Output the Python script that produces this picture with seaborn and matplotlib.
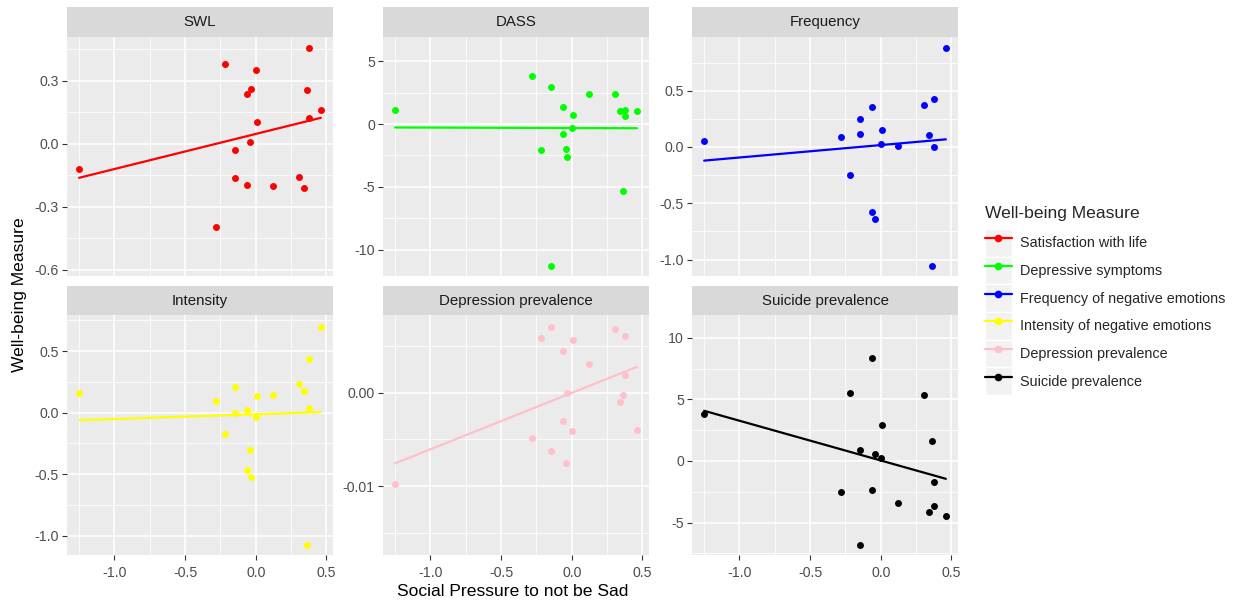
import numpy as np
import pandas as pd
import matplotlib
matplotlib.use("Agg")
import matplotlib.pyplot as plt
from matplotlib.lines import Line2D
from matplotlib.patches import Patch
from matplotlib.ticker import FixedLocator, FormatStrFormatter
import seaborn as sns

# --- data ---
# Social pressure to not be sad, one value per country
pressure = [-1.25, -0.283, -0.22, -0.147, -0.147, -0.062, -0.062, -0.044, -0.031,
            0.0, 0.008, 0.12, 0.306, 0.34, 0.366, 0.376, 0.377, 0.461]

swl = [-0.121, -0.398, 0.381, -0.029, -0.162, 0.237, -0.195, 0.006, 0.259,
       0.352, 0.105, -0.202, -0.156, -0.213, 0.254, 0.457, 0.122, 0.162]
dass = [1.14, 3.82, -2.04, 2.97, -11.3, 1.33, -0.80, -1.96, -2.63,
        -0.32, 0.74, 2.39, 2.39, 1.03, -5.33, 1.14, 0.64, 1.03]
frequency = [0.050, 0.086, -0.249, 0.246, 0.115, 0.352, -0.580, -0.636, np.nan,
             0.030, 0.151, 0.012, 0.373, 0.107, -1.053, 0.426, -0.003, 0.879]
intensity = [0.157, 0.098, -0.176, 0.206, 0.0, 0.022, -0.463, -0.306, -0.520,
             -0.038, 0.138, 0.146, 0.236, 0.176, -1.076, 0.434, 0.041, 0.699]
depression_prev = [-0.00975, -0.0048, 0.00587, 0.00705, -0.00626, 0.00448, -0.00302, -0.00754, -0.00007,
                   -0.00406, 0.00562, 0.00306, 0.0068, -0.00096, -0.00021, 0.00605, 0.00189, -0.00395]
suicide_prev = [3.82, -2.55, 5.50, 0.87, -6.82, 8.34, -2.38, 0.54, np.nan,
                0.27, 2.95, -3.44, 5.39, -4.14, 1.65, -1.68, -3.66, -4.44]

panels = ["SWL", "DASS", "Frequency", "Intensity", "Depression prevalence", "Suicide prevalence"]
measures = ["Satisfaction with life", "Depressive symptoms", "Frequency of negative emotions",
            "Intensity of negative emotions", "Depression prevalence", "Suicide prevalence"]
colors = ["#FF0000", "#00FF00", "#0000FF", "#FFFF00", "#FFC0CB", "#000000"]
values = [swl, dass, frequency, intensity, depression_prev, suicide_prev]

y_ticks = [[-0.6, -0.3, 0.0, 0.3], [-10, -5, 0, 5], [-1.0, -0.5, 0.0, 0.5],
           [-1.0, -0.5, 0.0, 0.5], [-0.01, 0.0], [-5, 0, 5, 10]]
y_fmt = ["%.1f", "%d", "%.1f", "%.1f", "%.2f", "%d"]
y_lims = [(-0.630, 0.510), (-12.1, 6.95), (-1.145, 0.979),
          (-1.157, 0.794), (-0.01733, 0.00829), (-7.64, 11.86)]
x_ticks = [-1.0, -0.5, 0.0, 0.5]

df = pd.concat(
    [pd.DataFrame({"pressure": pressure, "value": v, "panel": p})
     for p, v in zip(panels, values)],
    ignore_index=True,
)

sns.set_style("darkgrid", {"axes.facecolor": "#EBEBEB", "grid.color": "white"})
plt.rcParams["font.family"] = ["Liberation Sans", "DejaVu Sans"]
plt.rcParams["axes.unicode_minus"] = False

TICK_FS = 10.2
STRIP_FS = 10.8
LEGEND_FS = 10.4
TITLE_FS = 12.6

W, H = 1239, 603
fig = plt.figure(figsize=(W / 100, H / 100), dpi=100)


def rect(l, t, r, b):
    return [l / W, 1 - b / H, (r - l) / W, (b - t) / H]


cols = [(67, 333), (383, 649), (692, 958)]
rows = [(36.7, 276), (315, 555)]
strips = [(6.7, 36.7), (286, 315)]

for i, name in enumerate(panels):
    r, c = divmod(i, 3)
    l, rr = cols[c]
    ax = fig.add_axes(rect(l, rows[r][0], rr, rows[r][1]))
    sub = df[df["panel"] == name]
    sns.regplot(
        data=sub, x="pressure", y="value", ax=ax, ci=None, color=colors[i],
        scatter_kws={"s": 25, "alpha": 1, "linewidths": 0, "zorder": 3},
        line_kws={"lw": 1.6, "zorder": 2},
    )
    ax.set_xlim(-1.336, 0.547)
    ax.set_ylim(*y_lims[i])
    ax.xaxis.set_major_locator(FixedLocator(x_ticks))
    ax.xaxis.set_minor_locator(FixedLocator([-1.25, -0.75, -0.25, 0.25]))
    yt = y_ticks[i]
    step = yt[1] - yt[0]
    ax.yaxis.set_major_locator(FixedLocator(yt))
    ax.yaxis.set_minor_locator(FixedLocator(np.arange(yt[0] - step * 1.5, yt[-1] + step, step)))
    ax.yaxis.set_major_formatter(FormatStrFormatter(y_fmt[i]))
    ax.xaxis.set_major_formatter(FormatStrFormatter("%.1f"))
    ax.grid(which="major", color="white", lw=1.1)
    ax.grid(which="minor", color="white", lw=0.55)
    ax.set_axisbelow(True)
    for s in ax.spines.values():
        s.set_visible(False)
    ax.tick_params(which="major", length=3.4, width=0.8, color="#333333",
                   labelcolor="#4D4D4D", labelsize=TICK_FS)
    ax.tick_params(axis="x", which="major", bottom=True, pad=4.4)
    ax.tick_params(axis="y", which="major", left=True, pad=2.4)
    ax.tick_params(which="minor", length=0)
    if r == 0:
        ax.tick_params(axis="x", which="major", length=0, labelbottom=False)
    ax.set_xlabel("")
    ax.set_ylabel("")

    sax = fig.add_axes(rect(l, strips[r][0], rr, strips[r][1]))
    sax.set_facecolor("#D9D9D9")
    sax.set_xticks([])
    sax.set_yticks([])
    for s in sax.spines.values():
        s.set_visible(False)
    sax.text(0.5, 0.5, name, ha="center", va="center", fontsize=STRIP_FS,
             color="#1A1A1A", transform=sax.transAxes)

fig.text(512.5 / W, 1 - 592 / H, "Social Pressure to not be Sad",
         ha="center", va="center", fontsize=TITLE_FS, color="black")
fig.text(20 / W, 1 - 295 / H, "Well-being Measure", rotation=90,
         ha="center", va="center", fontsize=TITLE_FS, color="black")

handles = [
    (Patch(facecolor="#F2F2F2", edgecolor="white", lw=1.0),
     Line2D([], [], color=c, lw=1.6, marker="o", markersize=4.5))
    for c in colors
]
leg = fig.legend(handles, measures, title="Well-being Measure", loc="upper left",
                 bbox_to_anchor=(979 / W, 1 - 200 / H), frameon=False,
                 fontsize=LEGEND_FS, title_fontsize=TITLE_FS, alignment="left",
                 handlelength=1.87, handleheight=2.57, labelspacing=0.0,
                 handletextpad=0.6, borderaxespad=0)
leg._legend_box.sep = 6.0  # gap between legend title and keys

fig.savefig("out.png", dpi=100)
